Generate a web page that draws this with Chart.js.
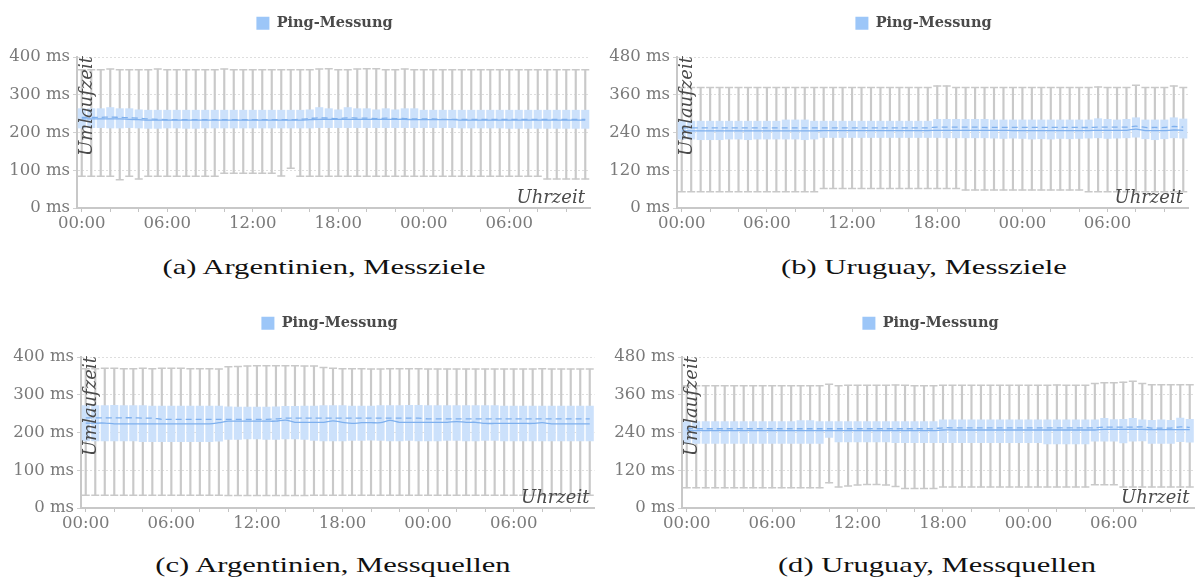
<!DOCTYPE html>
<html><head><meta charset="utf-8">
<script src="https://cdn.jsdelivr.net/npm/chart.js@4.4.1/dist/chart.umd.min.js"></script>
<style>
html,body{margin:0;padding:0;background:#fff;overflow:hidden;width:1200px;height:581px;position:relative;}
canvas{position:absolute;}
.cap{position:absolute;font-family:'Liberation Serif';font-size:22px;line-height:22px;color:#111;white-space:nowrap;transform:translateX(-50%) scaleX(1.39);}
</style></head><body>
<canvas id="ca" width="600" height="240" style="left:0;top:0"></canvas>
<canvas id="cb" width="600" height="240" style="left:600px;top:0"></canvas>
<canvas id="cc" width="600" height="240" style="left:0;top:300px"></canvas>
<canvas id="cd" width="600" height="240" style="left:600px;top:300px"></canvas>
<div class="cap" id="capa" style="left:324px;top:256px"></div>
<div class="cap" id="capb" style="left:924px;top:256px"></div>
<div class="cap" id="capc" style="left:333px;top:554px"></div>
<div class="cap" id="capd" style="left:937px;top:554px"></div>
<script>
// ---- categories (time bins, 40 min) ----
const times = ['00:00','00:40','01:20','02:00','02:40','03:20','04:00','04:40','05:20','06:00',
 '06:40','07:20','08:00','08:40','09:20','10:00','10:40','11:20','12:00','12:40',
 '13:20','14:00','14:40','15:20','16:00','16:40','17:20','18:00','18:40','19:20',
 '20:00','20:40','21:20','22:00','22:40','23:20','00:00','00:40','01:20','02:00',
 '02:40','03:20','04:00','04:40','05:20','06:00','06:40','07:20','08:00','08:40',
 '09:20','10:00','10:40','11:20'];
const seriesName = 'Ping-Messung';
const xTitle = 'Uhrzeit';
const yTitle = 'Umlaufzeit';
const captions = ['(a) Argentinien, Messziele','(b) Uruguay, Messziele','(c) Argentinien, Messquellen','(d) Uruguay, Messquellen'];
const yLabelsAr = [0,100,200,300,400];
const yLabelsUy = [0,120,240,360,480];

// ---- (a) Argentinien, Messziele ----
const aMax = [366,366,366,368,366,366,366,366,368,366,366,366,366,366,366,368,366,366,366,366,366,366,366,366,366,368,369,366,366,368,369,369,366,366,368,366,366,366,366,366,366,366,366,366,366,366,366,366,366,366,366,366,366,366];
const aQ3  = [264,264,264,267,264,264,261,260,260,260,260,260,260,260,260,260,260,260,260,260,260,260,260,260,261,267,264,261,267,264,264,261,264,261,264,264,260,260,260,260,260,260,260,260,260,260,260,260,260,260,260,260,260,260];
const aMed = [236,236,236,236,236,235,234,233,233,233,233,233,233,233,233,233,233,233,233,233,233,233,233,233,234,235,235,235,235,235,235,235,235,235,235,234,234,234,234,234,233,233,233,233,233,233,233,233,233,233,233,233,233,233];
const aMean= [240,240,240,241,240,239,238,236,235,234,234,234,234,234,234,234,234,234,234,234,234,234,234,235,237,239,238,237,239,238,238,237,238,237,237,236,236,236,235,235,235,235,235,235,235,235,235,235,235,235,235,235,235,235];
const aQ1  = [211,212,212,211,211,212,211,210,210,211,211,210,210,211,211,211,211,211,211,211,211,211,211,211,211,212,212,212,212,212,212,212,212,212,212,212,212,212,212,212,211,211,211,211,211,210,210,210,210,210,210,210,210,210];
const aMin = [84,84,84,84,75,84,77,84,84,84,84,84,84,84,84,92,92,92,92,92,92,85,105,84,84,84,84,84,84,84,84,84,84,84,84,84,84,84,84,84,84,84,84,84,84,84,84,84,84,77,77,77,77,77];

// ---- (b) Uruguay, Messziele ----
const bMax = [383,383,383,383,383,383,383,383,383,383,383,383,383,383,383,383,383,383,383,383,383,383,383,383,383,383,383,388,388,383,383,383,383,383,383,383,383,383,383,383,383,383,383,383,385,383,383,383,390,383,383,383,388,383];
const bQ3  = [277,277,277,277,277,277,277,277,277,277,277,281,281,281,277,277,277,277,277,277,277,277,277,277,277,277,277,283,283,283,283,283,283,281,281,281,281,281,281,281,281,281,281,281,285,283,281,283,288,281,281,281,288,284];
const bMed = [245,245,245,245,245,245,245,245,245,245,245,245,245,245,245,246,246,246,246,246,246,246,246,246,246,246,246,247,247,247,247,247,247,247,247,246,246,246,246,246,246,246,246,246,247,247,247,247,251,246,246,246,248,247];
const bMean= [255,255,255,255,255,255,255,255,255,255,255,255,255,255,255,255,255,255,255,255,255,255,255,255,255,255,255,257,257,257,257,257,256,256,256,256,256,256,256,256,256,256,256,256,257,257,257,257,260,256,256,256,259,257];
const bQ1  = [218,218,216,216,216,218,218,216,218,218,218,218,218,216,218,223,223,223,223,223,223,223,223,223,223,223,223,223,222,222,222,222,222,221,220,221,220,218,219,218,220,219,220,221,222,220,221,222,224,219,216,219,222,221];
const bMin = [52,52,52,52,52,52,52,52,52,52,52,52,52,52,52,62,62,62,62,62,62,62,62,62,62,62,62,62,62,62,57,57,57,57,57,57,57,57,57,57,57,57,57,52,52,52,52,52,52,52,52,52,52,52];

// ---- (c) Argentinien, Messquellen ----
const cMax = [369,369,370,370,369,369,370,369,370,370,370,369,369,369,368,374,375,376,377,377,377,377,377,376,376,372,370,369,369,369,368,368,369,369,369,369,368,368,368,368,368,368,368,368,368,368,368,368,369,368,368,368,368,368];
const cQ3  = [272,272,272,273,272,272,272,271,271,271,271,271,271,271,271,269,268,268,268,268,269,270,270,271,271,272,272,272,271,271,271,272,272,272,273,273,272,272,272,272,272,272,272,272,271,271,271,271,271,271,271,271,271,271];
const cMed = [225,225,225,223,223,223,223,223,223,223,223,223,223,223,226,230,230,230,230,230,230,233,227,227,227,227,231,227,224,226,226,226,232,227,227,227,227,227,227,229,227,227,224,224,224,224,224,224,226,223,223,223,223,223];
const cMean= [239,239,239,239,239,239,238,238,235,235,235,235,235,235,235,235,235,235,235,235,236,238,238,238,238,238,238,238,238,238,238,238,238,238,238,238,236,236,236,236,236,236,236,236,236,236,236,236,236,236,236,236,236,236];
const cQ1  = [177,177,177,177,177,177,175,175,175,175,175,175,175,175,176,181,181,182,182,181,181,182,182,181,178,177,177,177,178,178,179,178,177,177,178,177,177,177,178,178,177,177,178,178,177,177,177,177,177,177,177,177,177,177];
const cMin = [34,34,34,34,34,34,34,34,34,34,34,34,34,34,34,33,33,33,33,33,33,33,33,33,34,34,34,34,34,34,34,34,34,34,34,34,34,34,34,34,34,34,34,34,34,34,34,34,34,34,34,34,34,34];

// ---- (d) Uruguay, Messquellen ----
const dMax = [389,389,389,389,389,389,389,389,389,389,389,389,389,389,389,393,389,390,390,390,390,390,391,390,389,389,389,390,390,390,390,390,390,390,390,390,390,390,390,391,390,390,390,396,398,398,400,403,396,392,392,392,392,392];
const dQ3  = [276,276,276,276,276,276,276,276,276,276,276,276,279,279,276,276,276,276,276,276,276,276,276,276,276,276,276,281,281,281,281,281,281,281,281,281,281,281,281,281,281,281,281,281,286,282,283,286,281,280,281,280,287,283];
const dMed = [246,246,246,246,246,246,246,246,246,246,246,246,246,246,246,246,246,246,246,246,246,246,246,246,246,246,246,248,248,248,248,248,248,248,248,248,248,248,248,248,248,248,248,248,250,250,250,250,250,249,249,249,249,249];
const dMean= [252,252,252,252,252,252,252,252,252,252,252,252,252,252,252,252,252,252,252,252,252,252,252,252,252,252,252,255,255,255,255,255,255,255,255,255,255,255,255,255,255,255,255,255,257,257,257,257,258,254,254,254,258,256];
const dQ1  = [204,204,204,204,204,204,204,204,204,204,204,204,204,204,204,223,209,209,209,209,209,209,207,207,207,207,207,207,207,207,207,207,207,207,207,207,207,207,203,203,203,203,203,211,211,211,206,211,212,204,204,204,210,208];
const dMin = [64,64,64,64,64,64,64,64,64,64,64,64,64,64,64,80,67,70,73,75,75,73,68,62,62,62,62,67,67,67,67,67,67,67,67,67,67,67,67,67,67,67,67,74,74,74,67,67,67,67,67,67,67,67];

const SERIF = "'DejaVu Serif'";
const axisTitles = {
  id: 'axisTitles',
  afterDraw(chart) {
    const {ctx, chartArea: a} = chart;
    ctx.save();
    ctx.fillStyle = '#4a4a4a';
    ctx.font = "italic 18px " + SERIF;
    ctx.textBaseline = 'alphabetic';
    ctx.textAlign = 'right';
    ctx.fillText(xTitle, a.right - 5, a.bottom - 5.5);
    ctx.translate(a.left + 14.5, a.top - 1);
    ctx.rotate(-Math.PI / 2);
    ctx.fillText(yTitle, 0, 0);
    ctx.restore();
  }
};

function isHourTick(label, every) {
  const [h, m] = label.split(':');
  return m === '00' && (+h) % every === 0;
}

function boxChart(id, padL, padR, yLabels, s) {
  const yMax = yLabels[yLabels.length - 1];
  const step = yLabels[1] / 2;
  const lineCol = '#7eb0ee';
  const whisk = '#c9c9c9';
  return new Chart(document.getElementById(id), {
    type: 'bar',
    data: {
      labels: times,
      datasets: [
        {type: 'line', label: 'Median', data: s.med, borderColor: lineCol, borderWidth: 1.3, pointRadius: 0, tension: 0.3, xAxisID: 'x', yAxisID: 'y', order: 0},
        {type: 'line', label: 'Mittelwert', data: s.mean, borderColor: lineCol, borderWidth: 1.3, borderDash: [6, 4], pointRadius: 0, tension: 0.3, xAxisID: 'x', yAxisID: 'y', order: 1},
        {type: 'bar', label: seriesName, data: s.q1.map((v, i) => [v, s.q3[i]]), backgroundColor: '#cce1fb', borderWidth: 0, barPercentage: 0.85, categoryPercentage: 1, grouped: false, xAxisID: 'x', yAxisID: 'y', order: 2},
        {type: 'bar', label: 'Whisker', data: s.min.map((v, i) => [v, s.max[i]]), backgroundColor: whisk, borderWidth: 0, barThickness: 1.5, grouped: false, xAxisID: 'x', yAxisID: 'y', order: 3},
        {type: 'line', label: 'Max', data: s.max, showLine: false, pointStyle: 'line', pointRadius: 4, pointBorderColor: whisk, pointBorderWidth: 1.5, xAxisID: 'x', yAxisID: 'y', order: 4},
        {type: 'line', label: 'Min', data: s.min, showLine: false, pointStyle: 'line', pointRadius: 4, pointBorderColor: whisk, pointBorderWidth: 1.5, xAxisID: 'x', yAxisID: 'y', order: 4}
      ]
    },
    options: {
      responsive: false,
      animation: false,
      events: [],
      layout: {padding: {left: padL, right: padR, top: 6, bottom: 0}},
      plugins: {
        tooltip: {enabled: false},
        legend: {
          display: true, position: 'top', align: 'center',
          labels: {
            boxWidth: 13, boxHeight: 13, padding: 10, color: '#4a4a4a',
            font: {family: SERIF, weight: 'bold', size: 14.5},
            generateLabels(chart) {
              const items = Chart.defaults.plugins.legend.labels.generateLabels(chart);
              return items.filter(it => it.text === seriesName).map(it => Object.assign(it, {fillStyle: '#9cc6f8', strokeStyle: '#9cc6f8', lineWidth: 0}));
            }
          }
        }
      },
      scales: {
        x: {
          type: 'category', position: 'bottom', offset: true,
          grid: {display: true, drawOnChartArea: false, drawTicks: true, tickLength: 4, offset: false,
                 color: 'rgba(0,0,0,0)',
                 tickColor: c => (c.tick && isHourTick(times[c.index], 2)) ? '#c4c4c4' : 'rgba(0,0,0,0)'},
          border: {display: true, color: '#c8c8c8', width: 2},
          ticks: {autoSkip: false, maxRotation: 0, minRotation: 0, padding: 2, color: '#7a7a7a',
                  font: {family: SERIF, size: 16.5},
                  callback: function (v, i) { const t = times[i]; return isHourTick(t, 6) ? t : ''; }},
          afterFit: sc => { sc.height = 32; }
        },
        xTop: {
          type: 'linear', position: 'top', display: true,
          grid: {display: false}, border: {display: false}, ticks: {display: false},
          afterFit: sc => { sc.height = 16.5; }
        },
        y: {
          type: 'linear', position: 'left', min: 0, max: yMax,
          ticks: {stepSize: step, padding: 3, color: '#7a7a7a', font: {family: SERIF, size: 16.5},
                  callback: v => yLabels.includes(v) ? v + ' ms' : ''},
          grid: {color: '#dedede', lineWidth: 1, drawTicks: true, tickLength: 4, tickColor: '#d0d0d0'},
          border: {display: true, color: '#c8c8c8', width: 2, dash: [2, 2]},
          afterFit: sc => { sc.width = 18; sc._computeLabelArea = () => undefined; }
        }
      }
    },
    plugins: [axisTitles]
  });
}

boxChart('ca', 59, 10, yLabelsAr, {min: aMin, q1: aQ1, med: aMed, mean: aMean, q3: aQ3, max: aMax});
boxChart('cb', 59, 12, yLabelsUy, {min: bMin, q1: bQ1, med: bMed, mean: bMean, q3: bQ3, max: bMax});
boxChart('cc', 63, 4, yLabelsAr, {min: cMin, q1: cQ1, med: cMed, mean: cMean, q3: cQ3, max: cMax});
boxChart('cd', 64, 3, yLabelsUy, {min: dMin, q1: dQ1, med: dMed, mean: dMean, q3: dQ3, max: dMax});

['capa','capb','capc','capd'].forEach((id, i) => { document.getElementById(id).textContent = captions[i]; });
</script>
</body></html>
